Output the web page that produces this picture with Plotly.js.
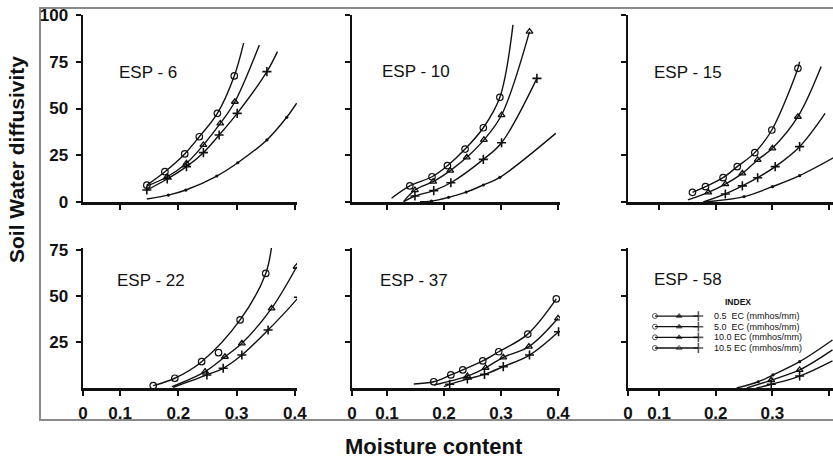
<!DOCTYPE html>
<html><head><meta charset="utf-8">
<script src="https://cdn.plot.ly/plotly-3.0.1.min.js"></script>
<style>html,body{margin:0;padding:0;background:#fff;}#chart{width:833px;height:460px;}</style>
</head><body><div id="chart"></div><script>
// ---------------- DATA ----------------
const panelLabels = ["ESP - 6", "ESP - 10", "ESP - 15", "ESP - 22", "ESP - 37", "ESP - 58"];
const xTickVals = [0.1, 0.2, 0.3, 0.4];
const xTickText = ["0.1", "0.2", "0.3", "0.4"];
const yTickTop = [0, 25, 50, 75, 100];
const yTickBottom = [25, 50, 75];
const legendLabels = ["0.5\u00a0\u00a0EC (mmhos/mm)", "5.0\u00a0\u00a0EC (mmhos/mm)", "10.0 EC (mmhos/mm)", "10.5 EC (mmhos/mm)"];
const legendTitle = "INDEX";

// ESP - 6
const p1_o_x = [0.146, 0.177, 0.211, 0.236, 0.267, 0.296];
const p1_o_y = [9.0, 16.2, 25.7, 34.9, 47.4, 67.4];
const p1_o_fx = [0.146, 0.177, 0.211, 0.236, 0.267, 0.296, 0.312];
const p1_o_fy = [9.0, 16.2, 25.7, 34.9, 47.4, 67.4, 85.0];
const p1_t_x = [0.181, 0.214, 0.243, 0.272, 0.297];
const p1_t_y = [13.5, 20.7, 30.5, 42.0, 53.6];
const p1_t_fx = [0.146, 0.181, 0.214, 0.243, 0.272, 0.297, 0.339];
const p1_t_fy = [8.5, 13.5, 20.7, 30.5, 42.0, 53.6, 84.0];
const p1_p_x = [0.146, 0.181, 0.214, 0.243, 0.270, 0.301, 0.352];
const p1_p_y = [6.4, 12.3, 18.9, 26.4, 35.8, 47.4, 69.7];
const p1_p_fx = [0.146, 0.181, 0.214, 0.243, 0.270, 0.301, 0.352, 0.370];
const p1_p_fy = [6.4, 12.3, 18.9, 26.4, 35.8, 47.4, 69.7, 80.4];
const p1_d_x = [0.183, 0.213, 0.266, 0.302, 0.352, 0.386];
const p1_d_y = [3.7, 6.4, 13.9, 21.0, 33.2, 45.3];
const p1_d_fx = [0.146, 0.183, 0.213, 0.266, 0.302, 0.352, 0.386, 0.403];
const p1_d_fy = [1.6, 3.7, 6.4, 13.9, 21.0, 33.2, 45.3, 52.8];

// ESP - 10
const p2_o_x = [0.140, 0.179, 0.206, 0.237, 0.269, 0.298];
const p2_o_y = [8.6, 13.5, 19.4, 28.3, 39.7, 56.0];
const p2_o_fx = [0.108, 0.140, 0.179, 0.206, 0.237, 0.269, 0.298, 0.321];
const p2_o_fy = [2.0, 8.6, 13.5, 19.4, 28.3, 39.7, 56.0, 94.7];
const p2_t_x = [0.149, 0.181, 0.211, 0.240, 0.270, 0.301, 0.350];
const p2_t_y = [6.4, 10.9, 16.8, 23.9, 33.2, 46.5, 91.1];
const p2_t_fx = [0.129, 0.149, 0.181, 0.211, 0.240, 0.270, 0.301, 0.350];
const p2_t_fy = [0.2, 6.4, 10.9, 16.8, 23.9, 33.2, 46.5, 91.1];
const p2_p_x = [0.149, 0.182, 0.212, 0.269, 0.301, 0.363];
const p2_p_y = [3.2, 6.1, 10.3, 22.8, 31.7, 66.1];
const p2_p_fx = [0.130, 0.149, 0.182, 0.212, 0.269, 0.301, 0.363];
const p2_p_fy = [0.3, 3.2, 6.1, 10.3, 22.8, 31.7, 66.1];
const p2_d_x = [0.178, 0.208, 0.239, 0.269, 0.298];
const p2_d_y = [0.5, 2.5, 5.3, 9.1, 13.2];
const p2_d_fx = [0.158, 0.178, 0.208, 0.239, 0.269, 0.298, 0.396];
const p2_d_fy = [0.2, 0.5, 2.5, 5.3, 9.1, 13.2, 36.7];

// ESP - 15
const p3_o_x = [0.159, 0.182, 0.213, 0.238, 0.269, 0.299, 0.345];
const p3_o_y = [5.2, 8.2, 13.0, 18.9, 26.4, 38.5, 71.5];
const p3_o_fx = [0.159, 0.182, 0.213, 0.238, 0.269, 0.299, 0.345, 0.348];
const p3_o_fy = [5.2, 8.2, 13.0, 18.9, 26.4, 38.5, 71.5, 75.0];
const p3_t_x = [0.187, 0.217, 0.247, 0.274, 0.300, 0.345];
const p3_t_y = [5.2, 9.6, 15.3, 22.5, 28.7, 45.6];
const p3_t_fx = [0.151, 0.187, 0.217, 0.247, 0.274, 0.300, 0.345, 0.386];
const p3_t_fy = [1.1, 5.2, 9.6, 15.3, 22.5, 28.7, 45.6, 72.4];
const p3_p_x = [0.217, 0.247, 0.274, 0.305, 0.348];
const p3_p_y = [4.3, 8.6, 13.0, 18.9, 29.6];
const p3_p_fx = [0.178, 0.217, 0.247, 0.274, 0.305, 0.348, 0.393];
const p3_p_fy = [0.0, 4.3, 8.6, 13.0, 18.9, 29.6, 47.4];
const p3_d_x = [0.250, 0.300, 0.348];
const p3_d_y = [2.9, 8.2, 14.1];
const p3_d_fx = [0.181, 0.250, 0.300, 0.348, 0.411];
const p3_d_fy = [0.0, 2.9, 8.2, 14.1, 24.2];

// ESP - 22
const p4_o_x = [0.157, 0.194, 0.240, 0.269, 0.306, 0.350];
const p4_o_y = [1.3, 5.3, 14.3, 19.2, 37.0, 62.3];
const p4_o_fx = [0.157, 0.194, 0.240, 0.306, 0.350, 0.361];
const p4_o_fy = [1.3, 5.3, 14.3, 37.0, 62.3, 79.5];
const p4_t_x = [0.246, 0.280, 0.309, 0.360, 0.403];
const p4_t_y = [8.9, 17.0, 24.3, 43.3, 65.9];
const p4_t_fx = [0.189, 0.246, 0.280, 0.309, 0.360, 0.403];
const p4_t_fy = [0.7, 8.9, 17.0, 24.3, 43.3, 65.9];
const p4_p_x = [0.249, 0.277, 0.309, 0.354, 0.406];
const p4_p_y = [7.1, 10.7, 17.9, 31.5, 49.3];
const p4_p_fx = [0.191, 0.249, 0.277, 0.309, 0.354, 0.406, 0.414];
const p4_p_fy = [0.3, 7.1, 10.7, 17.9, 31.5, 49.3, 53.0];

// ESP - 37
const p5_o_x = [0.182, 0.212, 0.233, 0.268, 0.296, 0.347, 0.397];
const p5_o_y = [3.4, 7.1, 9.8, 14.7, 19.7, 29.3, 48.4];
const p5_o_fx = [0.147, 0.182, 0.212, 0.233, 0.268, 0.296, 0.347, 0.397];
const p5_o_fy = [2.2, 3.4, 7.1, 9.8, 14.7, 19.7, 29.3, 48.4];
const p5_t_x = [0.241, 0.273, 0.304, 0.349, 0.400];
const p5_t_y = [6.5, 11.0, 16.7, 22.5, 37.9];
const p5_t_fx = [0.182, 0.241, 0.273, 0.304, 0.349, 0.400];
const p5_t_fy = [1.6, 6.5, 11.0, 16.7, 22.5, 37.9];
const p5_p_x = [0.210, 0.241, 0.271, 0.304, 0.350, 0.401];
const p5_p_y = [2.0, 4.9, 7.4, 11.6, 17.9, 30.6];
const p5_p_fx = [0.200, 0.210, 0.241, 0.271, 0.304, 0.350, 0.401];
const p5_p_fy = [0.7, 2.0, 4.9, 7.4, 11.6, 17.9, 30.6];

// ESP - 58
const p6_o_x = [0.275, 0.301, 0.348];
const p6_o_y = [3.4, 7.1, 14.3];
const p6_o_fx = [0.237, 0.275, 0.301, 0.348, 0.406];
const p6_o_fy = [0.0, 3.4, 7.1, 14.3, 26.1];
const p6_t_x = [0.298, 0.348];
const p6_t_y = [4.3, 9.8];
const p6_t_fx = [0.255, 0.298, 0.348, 0.406];
const p6_t_fy = [0.0, 4.3, 9.8, 20.7];
const p6_p_x = [0.298, 0.348];
const p6_p_y = [2.0, 6.5];
const p6_p_fx = [0.272, 0.298, 0.348, 0.406];
const p6_p_fy = [0.0, 2.0, 6.5, 14.8];

// ---------------- BUILD ----------------
const W = 833, H = 460;
const fx = v => v / W, fy = v => 1 - v / H;
const FONT = "Liberation Sans, Arial, Helvetica, sans-serif";
const INK = "#111";

const cols = [
  {l: 83, r: 297, x0: 0.0365, x1: 0.4036},
  {l: 352, r: 560, x0: 0.0386, x1: 0.4035},
  {l: 628, r: 833, x0: 0.0453, x1: 0.4069}
];
const rows = [
  {t: 15, b: 202, ymax: 100, ticks: yTickTop},
  {t: 248, b: 388, ymax: 76.1, ticks: yTickBottom}
];

const STY = {
  o: {symbol: 'circle-open', size: 6.5, line: {width: 1.2, color: INK}, color: INK},
  t: {symbol: 'triangle-up-open', size: 6, line: {width: 1.3, color: INK}, color: INK},
  p: {symbol: 'cross-thin-open', size: 6.5, line: {width: 1.6, color: INK}, color: INK},
  d: {symbol: 'circle', size: 3.2, color: INK, line: {width: 0}}
};

const panelSeries = [
  [[p1_o_x,p1_o_y,p1_o_fx,p1_o_fy,'o'],[p1_t_x,p1_t_y,p1_t_fx,p1_t_fy,'t'],[p1_p_x,p1_p_y,p1_p_fx,p1_p_fy,'p'],[p1_d_x,p1_d_y,p1_d_fx,p1_d_fy,'d']],
  [[p2_o_x,p2_o_y,p2_o_fx,p2_o_fy,'o'],[p2_t_x,p2_t_y,p2_t_fx,p2_t_fy,'t'],[p2_p_x,p2_p_y,p2_p_fx,p2_p_fy,'p'],[p2_d_x,p2_d_y,p2_d_fx,p2_d_fy,'d']],
  [[p3_o_x,p3_o_y,p3_o_fx,p3_o_fy,'o'],[p3_t_x,p3_t_y,p3_t_fx,p3_t_fy,'t'],[p3_p_x,p3_p_y,p3_p_fx,p3_p_fy,'p'],[p3_d_x,p3_d_y,p3_d_fx,p3_d_fy,'d']],
  [[p4_o_x,p4_o_y,p4_o_fx,p4_o_fy,'o'],[p4_t_x,p4_t_y,p4_t_fx,p4_t_fy,'t'],[p4_p_x,p4_p_y,p4_p_fx,p4_p_fy,'p']],
  [[p5_o_x,p5_o_y,p5_o_fx,p5_o_fy,'o'],[p5_t_x,p5_t_y,p5_t_fx,p5_t_fy,'t'],[p5_p_x,p5_p_y,p5_p_fx,p5_p_fy,'p']],
  [[p6_o_x,p6_o_y,p6_o_fx,p6_o_fy,'d'],[p6_t_x,p6_t_y,p6_t_fx,p6_t_fy,'t'],[p6_p_x,p6_p_y,p6_p_fx,p6_p_fy,'p']]
];

const traces = [];
const layout = {
  width: W, height: H,
  margin: {l: 0, r: 0, t: 0, b: 0, pad: 0},
  paper_bgcolor: '#fff', plot_bgcolor: 'rgba(0,0,0,0)',
  showlegend: false,
  font: {family: FONT, color: INK},
  annotations: [], shapes: []
};

const axisBase = {
  showline: true, linewidth: 2.5, linecolor: INK, mirror: false,
  ticks: 'outside', ticklen: 5, tickwidth: 2, tickcolor: INK,
  showgrid: false, zeroline: false, fixedrange: true,
  tickfont: {family: FONT, size: 17, weight: 'bold', color: INK}
};

for (let i = 0; i < 6; i++) {
  const c = cols[i % 3], r = rows[Math.floor(i / 3)];
  const n = i + 1;
  const xk = 'xaxis' + (n === 1 ? '' : n), yk = 'yaxis' + (n === 1 ? '' : n);
  const xr = 'x' + (n === 1 ? '' : n), yr = 'y' + (n === 1 ? '' : n);
  const bottom = i >= 3;
  layout[xk] = Object.assign({}, axisBase, {
    domain: [fx(c.l), fx(c.r)], range: [c.x0, c.x1], anchor: yr,
    tickvals: bottom ? [c.x0].concat(xTickVals) : xTickVals,
    ticktext: bottom ? ['0'].concat(xTickText) : xTickText,
    showticklabels: bottom, ticklabelstandoff: 3
  });
  layout[yk] = Object.assign({}, axisBase, {
    domain: [fy(r.b), fy(r.t)], range: [0, r.ymax], anchor: xr,
    tickvals: r.ticks, ticktext: r.ticks.map(String),
    showticklabels: (i % 3) === 0, ticklabelstandoff: 4
  });
  panelSeries[i].forEach(s => {
    traces.push({type: 'scatter', mode: 'lines', x: s[2], y: s[3], xaxis: xr, yaxis: yr,
      line: {color: INK, width: 1.4, shape: 'spline', smoothing: 1}, hoverinfo: 'skip'});
    traces.push({type: 'scatter', mode: 'markers', x: s[0], y: s[1], xaxis: xr, yaxis: yr,
      marker: STY[s[4]], cliponaxis: true, hoverinfo: 'skip'});
  });
}

// panel labels
const labelPos = [[148, 72], [416, 71], [688, 72], [151, 280], [414, 280], [688, 279]];
panelLabels.forEach((t, i) => {
  layout.annotations.push({text: t, xref: 'paper', yref: 'paper', x: fx(labelPos[i][0]), y: fy(labelPos[i][1]),
    xanchor: 'center', yanchor: 'middle', showarrow: false, font: {family: FONT, size: 17, color: INK}});
});

// legend key (hidden axes)
layout.xaxis7 = {domain: [fx(650), fx(705)], range: [0, 1], visible: false, fixedrange: true, anchor: 'y7'};
layout.yaxis7 = {domain: [fy(353.3), fy(310.7)], range: [3.5, -0.5], visible: false, fixedrange: true, anchor: 'x7'};
legendLabels.forEach((lab, k) => {
  traces.push({type: 'scatter', mode: 'lines+markers', x: [0.09, 0.53, 0.88], y: [k, k, k], xaxis: 'x7', yaxis: 'y7',
    line: {color: INK, width: 1.3},
    marker: {symbol: ['circle-open', k === 3 ? 'triangle-up-open' : 'triangle-up', 'cross-thin-open'],
             size: [5, 5, 7], color: INK, line: {color: INK, width: [1, 1, 1.6]}},
    hoverinfo: 'skip'});
  layout.annotations.push({text: lab, xref: 'paper', yref: 'paper', x: fx(713), y: fy(316 + k * 10.65),
    xanchor: 'left', yanchor: 'middle', showarrow: false, borderpad: 0,
    font: {family: FONT, size: 9, color: INK}});
});
layout.annotations.push({text: legendTitle, xref: 'paper', yref: 'paper', x: fx(738), y: fy(302),
  xanchor: 'center', yanchor: 'middle', showarrow: false, borderpad: 0,
  font: {family: FONT, size: 8.5, weight: 'bold', color: INK}});

// axis titles
layout.annotations.push({text: 'Moisture content', xref: 'paper', yref: 'paper', x: fx(434), y: fy(446),
  xanchor: 'center', yanchor: 'middle', showarrow: false, font: {family: FONT, size: 22, weight: 'bold', color: INK}});
layout.annotations.push({text: 'Soil Water diffusivity', xref: 'paper', yref: 'paper', x: fx(16), y: fy(160),
  xanchor: 'center', yanchor: 'middle', textangle: -90, showarrow: false, font: {family: FONT, size: 21, weight: 'bold', color: INK}});

// outer frame
layout.shapes.push({type: 'rect', xref: 'paper', yref: 'paper', x0: fx(40), x1: 1.02, y0: fy(420), y1: fy(8),
  line: {color: '#8a8a8a', width: 2}, fillcolor: 'rgba(0,0,0,0)', layer: 'below'});

Plotly.newPlot('chart', traces, layout, {staticPlot: true, displayModeBar: false});
</script></body></html>
